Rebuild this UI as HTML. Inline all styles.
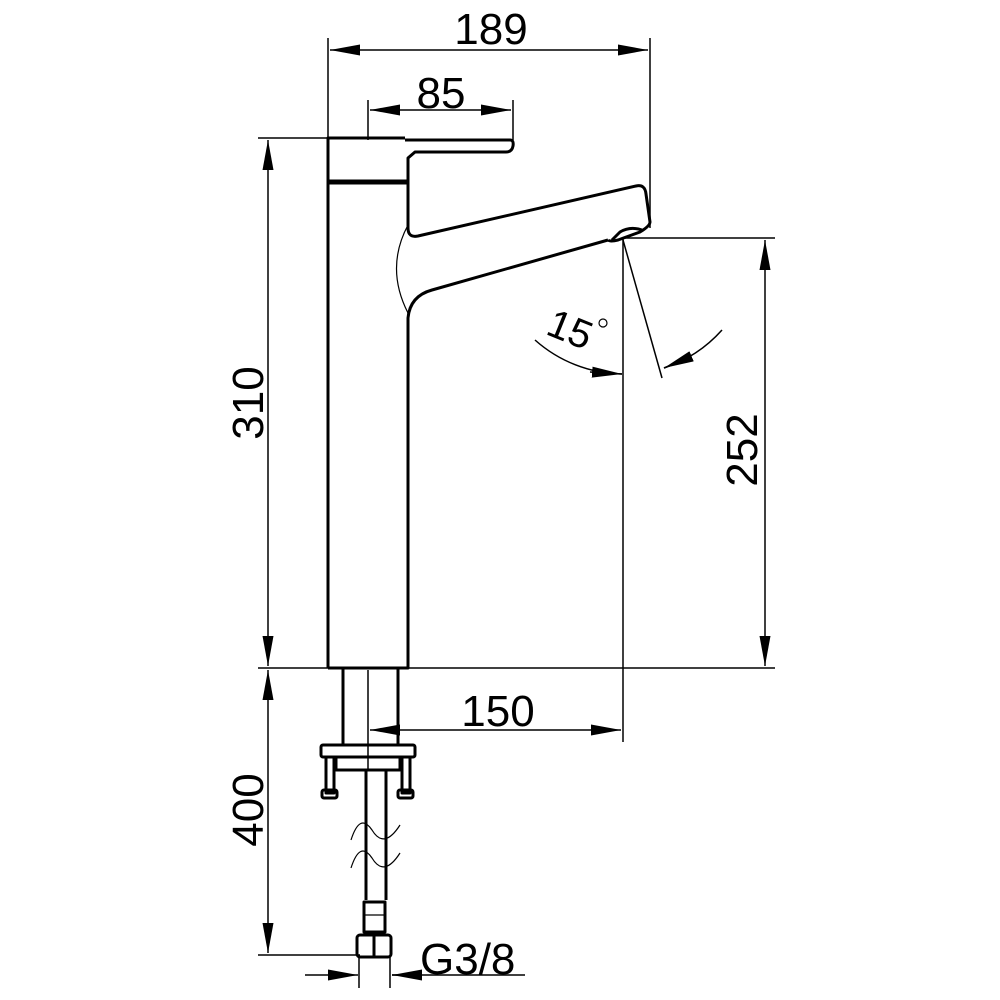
<!DOCTYPE html>
<html><head><style>body{margin:0;background:#fff}svg{display:block}text{font-family:"Liberation Sans",sans-serif;fill:#000}</style></head><body>
<svg width="1000" height="1000" viewBox="0 0 1000 1000" xmlns="http://www.w3.org/2000/svg">
<defs>
<marker id="b" viewBox="0 0 30 12" refX="30" refY="6" markerWidth="30" markerHeight="12" markerUnits="userSpaceOnUse" orient="auto-start-reverse"><path d="M0,0.5 L30,6 L0,11.5z"/></marker></defs>
<g stroke="#000" fill="none" stroke-width="1.5">
<line x1="328" y1="38" x2="328" y2="138"/><line x1="650" y1="38" x2="650" y2="228"/>
<line x1="330" y1="50" x2="648" y2="50" marker-start="url(#b)" marker-end="url(#b)"/>
<line x1="368" y1="100" x2="368" y2="140"/><line x1="513" y1="100" x2="513" y2="140"/>
<line x1="370" y1="110" x2="511" y2="110" marker-start="url(#b)" marker-end="url(#b)"/>
<line x1="258" y1="138" x2="328" y2="138"/><line x1="258" y1="668" x2="775" y2="668"/>
<line x1="268" y1="140" x2="268" y2="666" marker-start="url(#b)" marker-end="url(#b)"/>
<line x1="625" y1="238" x2="775" y2="238"/>
<line x1="765" y1="240" x2="765" y2="666" marker-start="url(#b)" marker-end="url(#b)"/>
<line x1="268" y1="670" x2="268" y2="953" marker-start="url(#b)" marker-end="url(#b)"/>
<line x1="258" y1="955" x2="360" y2="955"/>
<line x1="623" y1="238" x2="623" y2="742"/>
<line x1="370" y1="730" x2="621" y2="730" marker-start="url(#b)" marker-end="url(#b)"/>
<line x1="368" y1="670" x2="368" y2="770"/>
<line x1="623" y1="240" x2="662" y2="378"/>
<path d="M535,340 A134,134 0 0 0 622,374"/>
<path d="M722,330 A134,134 0 0 1 664,368"/>
<line x1="590" y1="372" x2="622" y2="374" marker-end="url(#b)"/>
<line x1="690" y1="357" x2="664" y2="368" marker-end="url(#b)"/>
<line x1="305" y1="975" x2="358" y2="975" marker-end="url(#b)"/>
<line x1="420" y1="975" x2="392" y2="975" marker-end="url(#b)"/>
<line x1="392" y1="975" x2="525" y2="975"/>
<line x1="359" y1="955" x2="359" y2="988"/><line x1="390" y1="955" x2="390" y2="988"/>
</g>
<g stroke="#000" fill="none" stroke-width="3" stroke-linejoin="round">
<path d="M328,668 L328,138 L405,138"/>
<path d="M405,140 L510,140 Q514,140 513,146 Q512,152 506,152 L415,152 L408,158 L408,228 Q408,238 418,236 L636,186 Q645,184 646,194 L650,222 Q650,226 640,232 L618,240 Q610,242 608,240"/>
<path d="M612,240 L620,232 Q630,226 642,230"/>
<path d="M608,240 L432,290 Q410,296 408,318 L408,668 L328,668"/>
<line x1="328" y1="182" x2="408" y2="182" stroke-width="5"/>
<path d="M343,668 L343,745 M398,668 L398,745"/>
<rect x="321" y="745" width="94" height="12" rx="2"/>
<path d="M336,757 L336,770 L400,770 L400,757"/>
<rect x="326" y="757" width="8" height="36"/><rect x="402" y="757" width="8" height="36"/>
<rect x="322" y="790" width="15" height="8" rx="2"/><rect x="398" y="790" width="15" height="8" rx="2"/>
<line x1="386" y1="770" x2="386" y2="900"/>
<line x1="366" y1="770" x2="366" y2="900"/>
<rect x="364" y="902" width="21" height="30"/>
<rect x="357" y="935" width="34" height="22" rx="3"/>
<line x1="374" y1="935" x2="374" y2="957"/>
</g>
<g stroke="#000" fill="none" stroke-width="1.2">
<path d="M408,225 Q385,268 408,313"/>
<path d="M351,840 Q360,812 372,830 Q384,850 400,825"/>
<path d="M351,868 Q360,840 372,858 Q384,878 400,853"/>
<line x1="364" y1="915" x2="385" y2="915"/>
<circle cx="603" cy="323" r="4"/>
</g>
<g font-size="44">
<text x="491" y="44" text-anchor="middle">189</text>
<text x="441" y="108" text-anchor="middle">85</text>
<text x="498" y="726" text-anchor="middle">150</text>
<text x="420" y="974">G3/8</text>
<text transform="translate(263,403) rotate(-90)" text-anchor="middle">310</text>
<text transform="translate(757,450) rotate(-90)" text-anchor="middle">252</text>
<text transform="translate(263,810) rotate(-90)" text-anchor="middle">400</text>
<text transform="translate(565,342) rotate(22)" text-anchor="middle" font-size="40">15</text>
</g>
</svg>
</body></html>
